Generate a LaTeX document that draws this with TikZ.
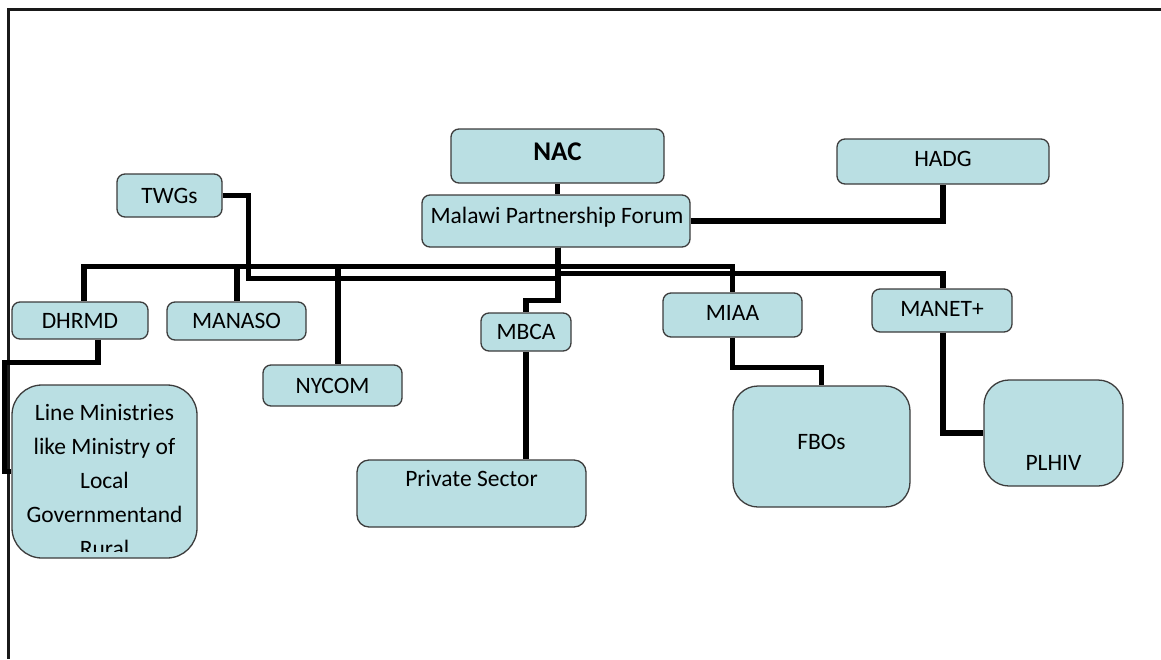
\documentclass[tikz,border=0pt]{standalone}
\usepackage{fontspec}
\setmainfont{Carlito}
\usetikzlibrary{calc}
\definecolor{boxfill}{RGB}{186,223,227}
\definecolor{boxline}{RGB}{60,60,60}
\begin{document}
\begin{tikzpicture}[x=1pt,y=-1pt,
  box/.style={draw=boxline, fill=boxfill, line width=1.3pt, rounded corners=8pt, inner sep=0pt,
              font=\fontsize{23.5}{28}\selectfont},
  txt/.style={inner sep=0pt, font=\fontsize{23.5}{28}\selectfont},
  conn/.style={line width=5.2pt, black, line join=miter}]
\useasboundingbox (0,0) rectangle (1161,659);
\fill[white] (0,0) rectangle (1161,659);
% frame
\draw[line width=2.2pt, black!90] (1161,9.5) -- (8.5,9.5) -- (8.5,659);

% boxes
\node[box, minimum width=213pt, minimum height=54pt] (nac) at (557.5,156) {};
\node[txt, font=\fontsize{27}{30}\selectfont\bfseries] (nacT) at (557.5,152) {NAC};
\node[box, minimum width=212pt, minimum height=45pt] (hadg) at (943,161.5) {};
\node[txt] (hadgT) at (943,159) {HADG};
\node[box, minimum width=105pt, minimum height=43pt] (twgs) at (169.5,195.5) {TWGs};
\node[box, minimum width=268pt, minimum height=52pt] (mpf) at (556,221) {};
\node[txt] (mpfT) at (557,217) {Malawi Partnership Forum};
\node[box, minimum width=136pt, minimum height=37pt] (dhrmd) at (80,320.5) {DHRMD};
\node[box, minimum width=139pt, minimum height=38pt] (manaso) at (236.5,321) {MANASO};
\node[box, minimum width=139pt, minimum height=41pt] (nycom) at (332.5,385.5) {NYCOM};
\node[box, minimum width=90pt, minimum height=38pt] (mbca) at (526,332) {MBCA};
\node[box, minimum width=139pt, minimum height=44pt] (miaa) at (732.5,315) {};
\node[txt] (miaaT) at (732.5,313) {MIAA};
\node[box, minimum width=140pt, minimum height=43pt] (manet) at (942,310.5) {};
\node[txt] (manetT) at (942,309) {MANET+};
\node[box, rounded corners=30pt, minimum width=185pt, minimum height=173pt] (lm) at (104.5,471.5) {};
\begin{scope}
\clip (14,387) rectangle (195,551);
\node[txt, anchor=north, align=center, font=\fontsize{23.5}{34}\selectfont] (lmT) at (104.5,404)
  {Line Ministries\\like Ministry of\\Local\\Governmentand\\Rural};
\end{scope}
\node[box, rounded corners=12pt, minimum width=229pt, minimum height=67pt] (ps) at (471.5,493.5) {};
\node[txt] (psT) at (471.5,478) {Private Sector};
\node[box, rounded corners=25pt, minimum width=177pt, minimum height=121pt] (fbos) at (821.5,446.5) {};
\node[txt] (fbosT) at (821.5,442) {FBOs};
\node[box, rounded corners=25pt, minimum width=139pt, minimum height=106pt] (plhiv) at (1053.5,433) {};
\node[txt] (plhivT) at (1053.5,463) {PLHIV};

% connectors
\draw[conn] (nac.south) -- (mpf.north -| nac.south);
\draw[conn] (mpf.east) -| (hadg.south);
\draw[conn] ([xshift=2pt]mpf.south) -- ++(0,19) -| ([xshift=4pt]dhrmd.north);
\draw[conn] ([xshift=2pt]mpf.south) -- ++(0,19) -| ([xshift=0.5pt]manaso.north);
\draw[conn] ([xshift=2pt]mpf.south) -- ++(0,19) -| ([xshift=5.5pt]nycom.north);
\draw[conn] ([xshift=2pt]mpf.south) -- ++(0,19) -| (miaa.north);
\draw[conn] ([xshift=2pt]mpf.south) -- ++(0,26) -| ([xshift=1pt]manet.north);
\draw[conn] ([xshift=2pt]mpf.south) -- ++(0,53) -| (mbca.north);
\draw[conn] (twgs.east) -- ++(25.5,0) |- ([xshift=2pt,yshift=-31pt]mpf.south);
\draw[conn] ([xshift=18pt]dhrmd.south) -- ++(0,23) -| ($(lm.west)+(-7,0)$) -- (lm.west);
\draw[conn] (mbca.south) -- (mbca.south |- ps.north);
\draw[conn] (miaa.south) -- ++(0,30) -| (fbos.north);
\draw[conn] ([xshift=1pt]manet.south) |- (plhiv.west);
\end{tikzpicture}
\end{document}
